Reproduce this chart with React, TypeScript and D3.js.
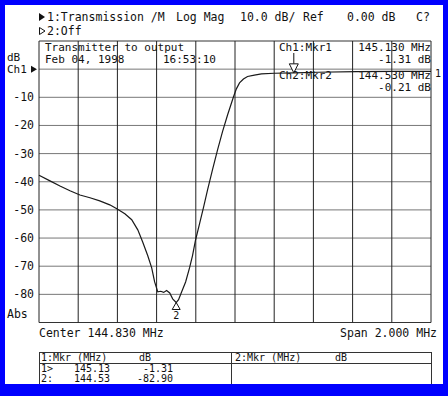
import React from 'react';
import {scaleLinear, line} from 'd3';

// trace (MHz / dB)
const freqMHz = [143.830, 143.886, 143.937, 143.988, 144.039, 144.090, 144.140, 144.191, 144.227, 144.268,
  144.303, 144.334, 144.359, 144.385, 144.405, 144.420, 144.436, 144.451, 144.466, 144.481,
  144.497, 144.512, 144.530, 144.542, 144.558, 144.578, 144.598, 144.613, 144.629, 144.649,
  144.670, 144.690, 144.715, 144.741, 144.766, 144.792, 144.822, 144.837, 144.853, 144.873,
  144.894, 144.929, 144.965, 145.031, 145.130, 145.250, 145.450, 145.650, 145.830];
const magDb = [-37.7, -39.7, -41.5, -43.2, -44.7, -45.7, -46.8, -48.2, -49.6, -51.4,
  -53.5, -57.1, -61.4, -66.3, -70.6, -75.6, -79.1, -78.9, -79.3, -78.6,
  -79.5, -81.6, -82.9, -81.9, -79.1, -75.6, -70.6, -66.3, -60.6, -55.0,
  -48.9, -42.9, -35.8, -28.7, -22.3, -16.3, -9.9, -7.0, -4.9, -3.5,
  -2.6, -2.1, -1.7, -1.45, -1.31, -1.1, -0.9, -0.8, -0.8];

const freqDomain = [143.83, 145.83];
const dbDomain = [10, -90];
const gridDb = [10, 0, -10, -20, -30, -40, -50, -60, -70, -80, -90];
const tickDb = [-10, -20, -30, -40, -50, -60, -70, -80];
const gridFreq = [143.83, 144.03, 144.23, 144.43, 144.63, 144.83, 145.03, 145.23, 145.43, 145.63, 145.83];

const markerFreq = [145.13, 144.53];
const markerDb = [-1.31, -82.9];

const headerTexts = [
  {x: 47, t: '1:Transmission /M'},
  {x: 176, t: 'Log Mag'},
  {x: 240, t: '10.0 dB/'},
  {x: 303, t: 'Ref'},
  {x: 347, t: '0.00 dB'},
  {x: 416, t: 'C?'},
];

const FONT = '"DejaVu Sans Mono", monospace';

const App = () => {
  const x = scaleLinear().domain(freqDomain).range([39, 431]);
  const y = scaleLinear().domain(dbDomain).range([41, 322.5]);
  const trace = line<number>()
    .x((d, i) => x(freqMHz[i]))
    .y(d => y(d));

  const m1x = x(markerFreq[0]), m1y = y(markerDb[0]);
  const m2x = x(markerFreq[1]), m2y = y(markerDb[1]);

  const txt = {fontFamily: FONT, fontSize: 11.5, fill: '#111'};
  const ann = {fontFamily: FONT, fontSize: 11, fill: '#111'};
  const small = {fontFamily: FONT, fontSize: 10, fill: '#111'};

  return (
    <svg width={448} height={396} style={{position: 'absolute', left: 0, top: 0}}>
      <rect x={0} y={0} width={448} height={396} fill="#0000ff"/>
      <rect x={5} y={5} width={438} height={379} fill="#ffffff"/>

      {/* header */}
      <path d="M39,13 L45,17 L39,21 Z" fill="#111"/>
      {headerTexts.map(h => (
        <text key={h.t} x={h.x} y={21} {...txt}>{h.t}</text>
      ))}
      <path d="M39.5,27.5 L45,31 L39.5,34.5 Z" fill="none" stroke="#111"/>
      <text x={47} y={35} {...txt}>2:Off</text>

      {/* grid */}
      {gridDb.map(d => (
        <line key={'h' + d} x1={39} x2={431} y1={y(d)} y2={y(d)}
              stroke={d === 10 || d === -90 ? '#333' : '#777'} strokeWidth={1}/>
      ))}
      {gridFreq.map(f => (
        <line key={'v' + f} x1={x(f)} x2={x(f)} y1={41} y2={322.5} stroke="#222" strokeWidth={1}/>
      ))}

      {/* y labels */}
      {tickDb.map(d => (
        <text key={'t' + d} x={34} y={y(d) + 4} textAnchor="end" {...txt}>{d}</text>
      ))}
      <text x={7} y={61} {...ann}>dB</text>
      <text x={7} y={73} {...ann}>Ch1</text>
      <path d={`M31,${y(0) - 3.5} L37,${y(0)} L31,${y(0) + 3.5} Z`} fill="#111"/>
      <text x={7} y={318} {...txt}>Abs</text>

      {/* annotation */}
      <text x={45} y={51} {...ann}>Transmitter to output</text>
      <text x={45} y={63} {...ann}>Feb 04, 1998</text>
      <text x={163} y={63} {...ann}>16:53:10</text>
      <text x={279} y={51} {...ann}>Ch1:Mkr1</text>
      <text x={431} y={51} textAnchor="end" {...ann}>145.130 MHz</text>
      <text x={431} y={63} textAnchor="end" {...ann}>-1.31 dB</text>
      <text x={279} y={79} {...ann}>Ch2:Mkr2</text>
      <text x={431} y={79} textAnchor="end" {...ann}>144.530 MHz</text>
      <text x={431} y={91} textAnchor="end" {...ann}>-0.21 dB</text>
      <text x={435} y={77} {...small}>1</text>

      {/* trace */}
      <path d={trace(magDb) || ''} fill="none" stroke="#1a1a1a" strokeWidth={1.2}/>

      {/* markers */}
      <line x1={m1x} x2={m1x} y1={53} y2={m1y - 9} stroke="#111"/>
      <path d={`M${m1x - 4.5},${m1y - 9} L${m1x + 4.5},${m1y - 9} L${m1x},${m1y} Z`} fill="#fff" stroke="#111"/>
      <path d={`M${m2x},${m2y} L${m2x - 4},${m2y + 7} L${m2x + 4},${m2y + 7} Z`} fill="none" stroke="#111"/>
      <text x={m2x} y={m2y + 16} textAnchor="middle" {...small}>2</text>

      {/* footer */}
      <text x={39} y={337} {...txt}>Center 144.830 MHz</text>
      <text x={437} y={337} textAnchor="end" {...txt}>Span 2.000 MHz</text>

      {/* marker table */}
      <rect x={39.5} y={352.5} width={392} height={40} fill="none" stroke="#333"/>
      <line x1={39.5} x2={431.5} y1={363.5} y2={363.5} stroke="#333"/>
      <line x1={231.5} x2={231.5} y1={352.5} y2={396} stroke="#333"/>
      <text x={41} y={361} {...small}>1:Mkr (MHz)</text>
      <text x={139} y={361} {...small}>dB</text>
      <text x={235} y={361} {...small}>2:Mkr (MHz)</text>
      <text x={335} y={361} {...small}>dB</text>
      <text x={41} y={372} {...small}>1&gt;</text>
      <text x={110} y={372} textAnchor="end" {...small}>{markerFreq[0].toFixed(2)}</text>
      <text x={173} y={372} textAnchor="end" {...small}>{markerDb[0].toFixed(2)}</text>
      <text x={41} y={382} {...small}>2:</text>
      <text x={110} y={382} textAnchor="end" {...small}>{markerFreq[1].toFixed(2)}</text>
      <text x={173} y={382} textAnchor="end" {...small}>{markerDb[1].toFixed(2)}</text>

      {/* blue frame over the table bottom */}
      <rect x={0} y={384} width={448} height={12} fill="#0000ff"/>
      <rect x={443} y={0} width={5} height={396} fill="#0000ff"/>
    </svg>
  );
};

export default App;
